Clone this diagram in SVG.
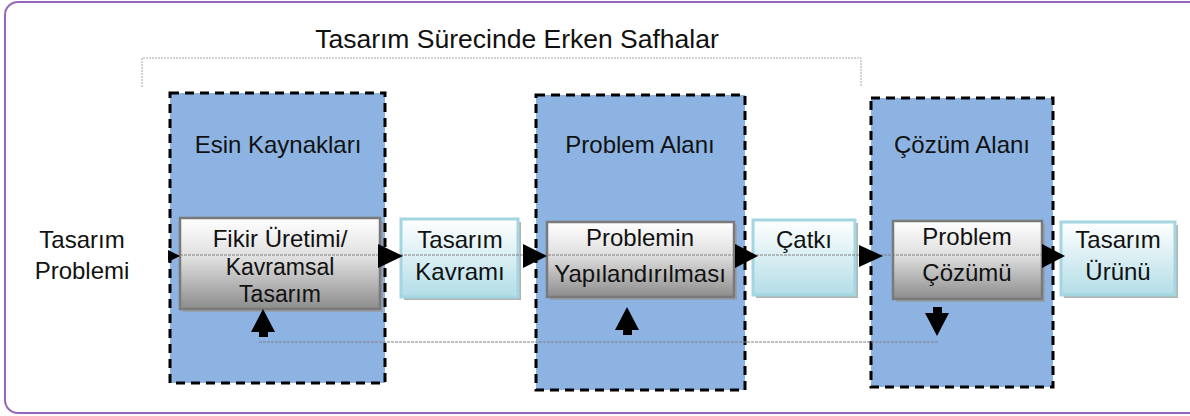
<svg xmlns="http://www.w3.org/2000/svg" width="1190" height="416" viewBox="0 0 1190 416">
  <defs>
    <linearGradient id="gradGray" x1="0" y1="0" x2="0" y2="1">
      <stop offset="0" stop-color="#ffffff"/>
      <stop offset="0.45" stop-color="#dedede"/>
      <stop offset="1" stop-color="#8c8c8c"/>
    </linearGradient>
    <linearGradient id="gradCyan" x1="0" y1="0" x2="0" y2="1">
      <stop offset="0" stop-color="#ffffff"/>
      <stop offset="1" stop-color="#b3dde7"/>
    </linearGradient>
  </defs>
  <style>
    text { font-family: "Liberation Sans", Arial, sans-serif; fill: #111111; text-anchor: middle; }
    .title { font-size: 26.5px; }
    .label { font-size: 24px; }
    .tight { font-size: 23px; }
    .stage { fill: #8db3e2; stroke: #000000; stroke-width: 3; stroke-dasharray: 9 6; }
    .shadow { fill: #9a9a9a; opacity: 0.75; }
    .proc { fill: url(#gradGray); stroke: #7a7a7a; stroke-width: 2.5; }
    .item { fill: url(#gradCyan); stroke: #a3d6e1; stroke-width: 3; }
    .thin { fill: none; stroke: #a8a8a8; stroke-width: 1; stroke-dasharray: 2 1; }
    .flow { fill: none; stroke: #808080; stroke-width: 1; stroke-dasharray: 3 1; }
    .head { fill: #000000; }
  </style>

  <!-- outer frame -->
  <rect x="5" y="2" width="1220" height="411" rx="13" fill="#ffffff" stroke="#9467bd" stroke-width="2"/>

  <!-- heading bracket -->
  <g id="early-phases">
    <text class="title" x="517" y="48">Tasarım Sürecinde Erken Safhalar</text>
    <path class="thin" d="M142,87 V58 H861 V87"/>
  </g>

  <!-- stage regions -->
  <g id="stage-inspiration">
    <rect class="stage" x="170" y="93" width="215" height="290"/>
    <text class="label" x="278" y="153">Esin Kaynakları</text>
  </g>
  <g id="stage-problem">
    <rect class="stage" x="536" y="95" width="209" height="295"/>
    <text class="label" x="640" y="153">Problem Alanı</text>
  </g>
  <g id="stage-solution">
    <rect class="stage" x="871" y="98" width="182" height="289"/>
    <text class="label" x="962" y="153">Çözüm Alanı</text>
  </g>

  <!-- input -->
  <g id="design-problem">
    <text class="label" x="82" y="248">Tasarım</text>
    <text class="label" x="82" y="279">Problemi</text>
  </g>

  <!-- process and item boxes -->
  <g id="idea-generation">
    <rect class="shadow" x="183" y="221" width="200" height="91"/>
    <rect class="proc" x="180" y="218" width="200" height="91"/>
    <text class="label" x="280" y="247">Fikir Üretimi/</text>
    <text class="tight" x="280" y="275">Kavramsal</text>
    <text class="tight" x="280" y="302">Tasarım</text>
  </g>
  <g id="design-concept">
    <rect class="shadow" x="404" y="222" width="117" height="78"/>
    <rect class="item" x="401" y="219" width="117" height="78"/>
    <text class="label" x="460" y="248">Tasarım</text>
    <text class="label" x="460" y="280">Kavramı</text>
  </g>
  <g id="problem-structuring">
    <rect class="shadow" x="550" y="225" width="187" height="75"/>
    <rect class="proc" x="547" y="222" width="187" height="75"/>
    <text class="label" x="640" y="246">Problemin</text>
    <text class="label" x="640" y="282">Yapılandırılması</text>
  </g>
  <g id="framework">
    <rect class="shadow" x="756" y="223" width="102" height="75"/>
    <rect class="item" x="753" y="220" width="102" height="75"/>
    <text class="label" x="804" y="248">Çatkı</text>
  </g>
  <g id="problem-solving">
    <rect class="shadow" x="896" y="224" width="149" height="78"/>
    <rect class="proc" x="893" y="221" width="149" height="78"/>
    <text class="label" x="967" y="245">Problem</text>
    <text class="label" x="967" y="281">Çözümü</text>
  </g>
  <g id="design-product">
    <rect class="shadow" x="1064" y="225" width="114" height="73"/>
    <rect class="item" x="1061" y="222" width="114" height="73"/>
    <text class="label" x="1118" y="248">Tasarım</text>
    <text class="label" x="1118" y="280">Ürünü</text>
  </g>

  <!-- connectors -->
  <g id="connectors">
    <line class="flow" x1="168" y1="255" x2="1062" y2="255"/>
    <polygon class="head" points="168,250 180,256 168,262"/>
    <polygon class="head" points="378,244 403,256 378,268"/>
    <polygon class="head" points="523,244 547,256 523,268"/>
    <polygon class="head" points="735,244 758,256 735,268"/>
    <polygon class="head" points="859,245 883,256 859,267"/>
    <polygon class="head" points="1042,244 1065,256 1042,268"/>

    <!-- feedback path -->
    <line class="flow" x1="259" y1="342" x2="938" y2="342"/>
    <polygon class="head" points="263,309 275,332 268,332 268,337 259,337 259,332 251,332"/>
    <polygon class="head" points="627,307 639,330 632,330 632,335 623,335 623,330 615,330"/>
    <polygon class="head" points="933,307 942,307 942,313 949,313 937,336 925,313 933,313"/>
  </g>
</svg>
